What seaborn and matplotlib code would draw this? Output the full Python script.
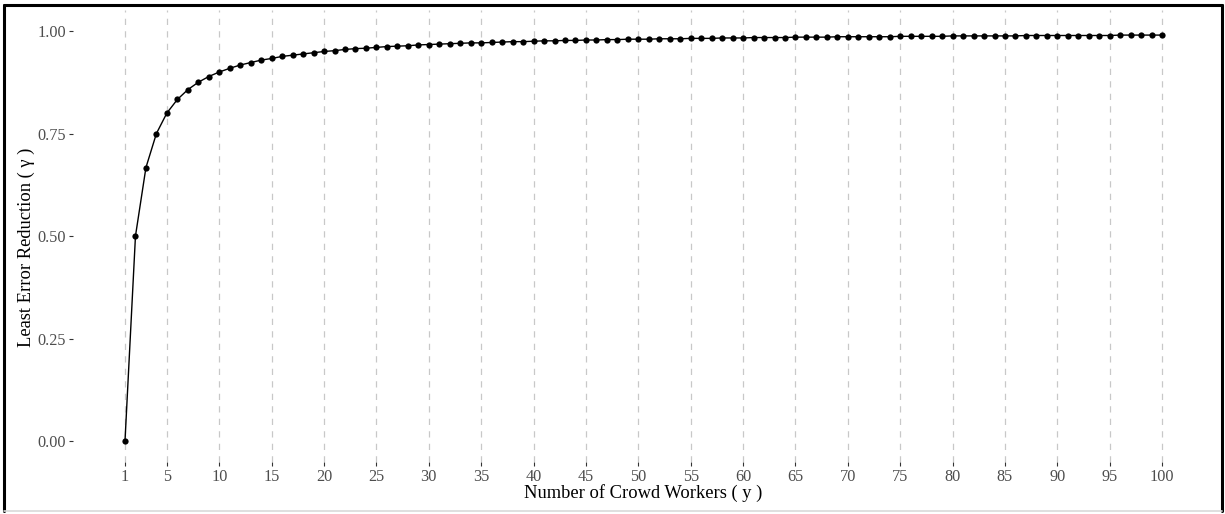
import matplotlib
matplotlib.use("Agg")
import matplotlib.pyplot as plt
from matplotlib.lines import Line2D
import pandas as pd
import seaborn as sns

# number of crowd workers (y) and least error reduction (gamma)
workers = list(range(1, 101))
reduction = [
    0.000, 0.500, 0.667, 0.750, 0.800, 0.833, 0.857, 0.875, 0.889, 0.900,
    0.909, 0.917, 0.923, 0.929, 0.933, 0.938, 0.941, 0.944, 0.947, 0.950,
    0.952, 0.955, 0.957, 0.958, 0.960, 0.962, 0.963, 0.964, 0.966, 0.967,
    0.968, 0.969, 0.970, 0.971, 0.971, 0.972, 0.973, 0.974, 0.974, 0.975,
    0.976, 0.976, 0.977, 0.977, 0.978, 0.978, 0.979, 0.979, 0.980, 0.980,
    0.980, 0.981, 0.981, 0.981, 0.982, 0.982, 0.982, 0.983, 0.983, 0.983,
    0.984, 0.984, 0.984, 0.984, 0.985, 0.985, 0.985, 0.985, 0.986, 0.986,
    0.986, 0.986, 0.986, 0.986, 0.987, 0.987, 0.987, 0.987, 0.987, 0.988,
    0.988, 0.988, 0.988, 0.988, 0.988, 0.988, 0.989, 0.989, 0.989, 0.989,
    0.989, 0.989, 0.989, 0.989, 0.989, 0.990, 0.990, 0.990, 0.990, 0.990,
]
x_ticks = [1, 5, 10, 15, 20, 25, 30, 35, 40, 45, 50, 55, 60, 65, 70, 75, 80, 85, 90, 95, 100]
y_ticks = [0.0, 0.25, 0.5, 0.75, 1.0]
y_labels = ["0.00", "0.25", "0.50", "0.75", "1.00"]

df = pd.DataFrame({"workers": workers, "reduction": reduction})

sns.set_style("white")
plt.rcParams["font.family"] = ["Liberation Serif", "DejaVu Serif"]

fig = plt.figure(figsize=(12.25, 5.14), dpi=100)
ax = fig.add_axes([0.0597, 0.102, 0.9313, 0.8776])

sns.lineplot(data=df, x="workers", y="reduction", ax=ax, color="black",
             linewidth=1.0, marker="o", markersize=4.5, markeredgewidth=0)

ax.set_xlim(-3.95, 104.95)
ax.set_ylim(-0.05, 1.05)
ax.set_xticks(x_ticks)
ax.set_xticklabels([str(t) for t in x_ticks])
ax.set_yticks(y_ticks)
ax.set_yticklabels(y_labels)
for v in x_ticks:
    ax.axvline(v, color="#c8c8c8", linewidth=0.9, linestyle=(0, (5, 5)), zorder=0)

for s in ax.spines.values():
    s.set_visible(False)
ax.tick_params(axis="both", which="major", length=3, width=0.8, color="#333333",
               labelcolor="#4d4d4d", labelsize=11.7, pad=2, bottom=True, left=True)
ax.set_xlabel("Number of Crowd Workers ( y )", fontsize=13.3, color="black", labelpad=0)
ax.set_ylabel("Least Error Reduction ( γ )", fontsize=13.3, color="black")
ax.yaxis.set_label_coords(-0.0335, 0.476)

# figure frame
fig.add_artist(Line2D([0.0035, 0.9975], [0.990, 0.990], transform=fig.transFigure, color="black", linewidth=2.2))
fig.add_artist(Line2D([0.0035, 0.0035], [0.006, 0.990], transform=fig.transFigure, color="black", linewidth=2.2))
fig.add_artist(Line2D([0.9975, 0.9975], [0.006, 0.990], transform=fig.transFigure, color="black", linewidth=2.2))
fig.add_artist(Line2D([0.0035, 0.9975], [0.006, 0.006], transform=fig.transFigure, color="#d9d9d9", linewidth=1.2))

fig.savefig("out.png", dpi=100)
